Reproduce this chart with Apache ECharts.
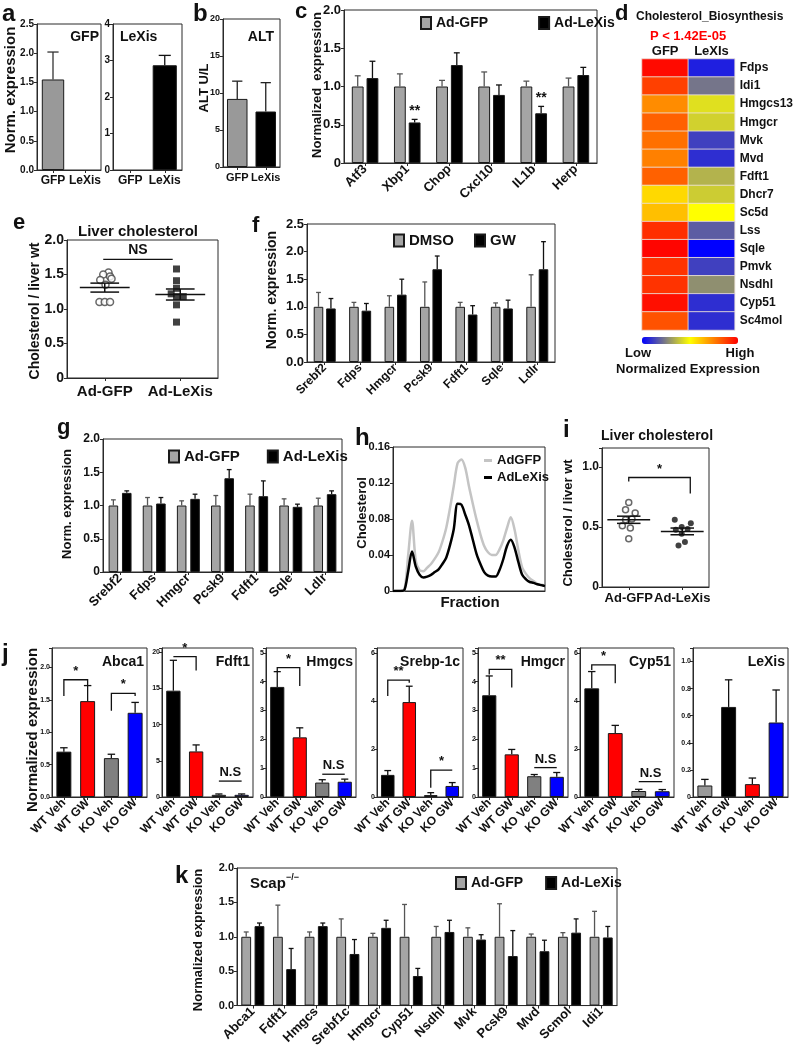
<!DOCTYPE html>
<html><head><meta charset="utf-8">
<script src="https://cdn.jsdelivr.net/npm/echarts@6/dist/echarts.min.js"></script>
<style>html,body{margin:0;padding:0;background:#fff}#c{width:796px;height:1050px}</style>
</head><body><div id="c"></div>
<script>
// ---------------- DATA ----------------
const aCats = ['GFP', 'LeXis'];
const aGFPpanel = [1.55, null];
const aGFPpanelErr = [0.47, null];
const aLeXisPanel = [null, 2.87];
const aLeXisPanelErr = [null, 0.27];

const bCats = ['GFP', 'LeXis'];
const bALT = [9.2, 7.5];
const bALTErr = [2.4, 3.9];

const cCats = ['Atf3', 'Xbp1', 'Chop', 'Cxcl10', 'IL1b', 'Herp'];
const cGFP = [1, 1, 1, 1, 1, 1];
const cGFPErr = [0.14, 0.165, 0.08, 0.19, 0.07, 0.11];
const cLeXis = [1.11, 0.53, 1.28, 0.89, 0.65, 1.15];
const cLeXisErr = [0.22, 0.04, 0.16, 0.13, 0.09, 0.10];
const cSig = ['', '**', '', '', '**', ''];

const hmRows = ['Fdps', 'Idi1', 'Hmgcs13', 'Hmgcr', 'Mvk', 'Mvd', 'Fdft1', 'Dhcr7', 'Sc5d', 'Lss', 'Sqle', 'Pmvk', 'Nsdhl', 'Cyp51', 'Sc4mol'];
const hmCols = ['GFP', 'LeXIs'];
const hmGFP = [0.98, 0.875, 0.725, 0.81, 0.78, 0.75, 0.81, 0.575, 0.625, 0.91, 0.99, 0.9, 0.9, 0.97, 0.84];
const hmLeXis = [0.06, 0.23, 0.44, 0.41, 0.125, 0.09, 0.35, 0.40, 0.50, 0.18, 0.0, 0.125, 0.28, 0.09, 0.09];

const eCats = ['Ad-GFP', 'Ad-LeXis'];
const eGFP = [1.53, 1.50, 1.47, 1.44, 1.42, 1.35, 1.10, 1.10, 1.10];
const eGFPJit = [0.05, -0.02, 0.07, 0.09, -0.06, 0.01, -0.07, 0, 0.07];
const eLeXis = [1.58, 1.41, 1.30, 1.22, 1.18, 1.18, 1.06, 0.81];
const eLeXisJit = [-0.05, -0.05, -0.05, -0.12, -0.05, 0.04, -0.05, -0.05];
const eMean = [1.31, 1.21];
const eSem = [0.065, 0.08];
const eNS = [[0.98, 1.90, 1.72, null, null, 'NS']];

const fCats = ['Srebf2', 'Fdps', 'Hmgcr', 'Pcsk9', 'Fdft1', 'Sqle', 'Ldlr'];
const fDMSO = [1, 1, 1, 1, 1, 1, 1];
const fDMSOErr = [0.26, 0.08, 0.20, 0.45, 0.08, 0.07, 0.58];
const fGW = [0.97, 0.93, 1.22, 1.68, 0.86, 0.97, 1.68];
const fGWErr = [0.18, 0.13, 0.28, 0.24, 0.16, 0.15, 0.50];

const gCats = ['Srebf2', 'Fdps', 'Hmgcr', 'Pcsk9', 'Fdft1', 'Sqle', 'Ldlr'];
const gGFP = [1, 1, 1, 1, 1, 1, 1];
const gGFPErr = [0.085, 0.12, 0.07, 0.15, 0.17, 0.10, 0.11];
const gLeXis = [1.19, 1.03, 1.10, 1.41, 1.14, 0.98, 1.17];
const gLeXisErr = [0.03, 0.09, 0.07, 0.13, 0.23, 0.04, 0.05];

const hFraction = [0,1,2,3,4,5,6,7,8,9,10,11,12,13,14,15,16,17,18,19,20,21,22,23,24,25,26,27,28,29,30,31,32,33,34,35,36,37,38,39,40];
const hAdGFP = [0,0,0,0.001,0.04,0.078,0.033,0.023,0.022,0.026,0.030,0.036,0.043,0.055,0.070,0.092,0.117,0.142,0.146,0.137,0.116,0.097,0.079,0.063,0.050,0.043,0.040,0.040,0.046,0.056,0.070,0.082,0.068,0.045,0.026,0.019,0.014,0.011,0.008,0.007,0.006];
const hAdLeXis = [0,0,0,0.001,0.022,0.044,0.027,0.018,0.015,0.016,0.018,0.021,0.024,0.030,0.037,0.051,0.069,0.097,0.096,0.085,0.073,0.057,0.041,0.030,0.021,0.017,0.016,0.016,0.023,0.035,0.050,0.057,0.048,0.032,0.018,0.013,0.010,0.009,0.0075,0.0065,0.0055];

const iCats = ['Ad-GFP', 'Ad-LeXis'];
const iGFP = [0.705, 0.644, 0.617, 0.567, 0.561, 0.511, 0.492, 0.403];
const iGFPJit = [0, -0.06, 0.12, 0.06, -0.06, -0.12, 0.03, 0];
const iLeXis = [0.561, 0.533, 0.50, 0.483, 0.478, 0.444, 0.375, 0.347];
const iLeXisJit = [-0.14, 0.16, -0.01, 0.10, -0.12, -0.01, 0.05, -0.07];
const iMean = [0.561, 0.464];
const iSem = [0.03, 0.028];
const iBracket = [[1.0, 2.15, 0.914, 0.88, 0.78, '*']];

const jCats = ['WT Veh', 'WT GW', 'KO Veh', 'KO GW'];
const jColors = ['#000000', '#ff0000', '#808080', '#0000ff'];
const jLeXisColors = ['#999999', '#000000', '#ff0000', '#0000ff'];
const jAbca1 = [0.70, 1.48, 0.60, 1.30];
const jAbca1Err = [0.06, 0.24, 0.06, 0.16];
const jFdft1 = [14.7, 6.3, 0.3, 0.3];
const jFdft1Err = [4.2, 0.9, 0.12, 0.12];
const jHmgcs = [3.82, 2.07, 0.50, 0.53];
const jHmgcsErr = [0.53, 0.33, 0.10, 0.09];
const jSrebp = [0.92, 3.95, 0.08, 0.46];
const jSrebpErr = [0.18, 0.66, 0.10, 0.14];
const jHmgcr = [3.53, 1.48, 0.72, 0.70];
const jHmgcrErr = [0.67, 0.17, 0.06, 0.15];
const jCyp51 = [4.52, 2.66, 0.25, 0.24];
const jCyp51Err = [0.70, 0.32, 0.07, 0.07];
const jLeXis = [0.085, 0.665, 0.095, 0.55];
const jLeXisErr = [0.045, 0.20, 0.045, 0.24];
const jAbca1Br = [[0, 1, 1.81, 1.56, 1.73, '*'], [2, 3, 1.60, 1.33, 1.56, '*']];
const jFdft1Br = [[0, 1, 19.4, null, 17.5, '*'], [2, 3, 2.2, null, null, 'N.S']];
const jHmgcsBr = [[0, 1, 4.49, 4.35, 3.85, '*'], [2, 3, 0.79, null, null, 'N.S']];
const jSrebpBr = [[0, 1, 4.86, 4.2, 4.75, '**'], [2, 3, 1.12, 0.39, null, '*']];
const jHmgcrBr = [[0, 1, 4.43, 4.25, 3.8, '**'], [2, 3, 1.02, null, null, 'N.S']];
const jCyp51Br = [[0, 1, 5.5, 5.28, 4.73, '*'], [2, 3, 0.64, null, null, 'N.S']];

const kCats = ['Abca1', 'Fdft1', 'Hmgcs', 'Srebf1c', 'Hmgcr', 'Cyp51', 'Nsdhl', 'Mvk', 'Pcsk9', 'Mvd', 'Scmol', 'Idi1'];
const kGFP = [1, 1, 1, 1, 1, 1, 1, 1, 1, 1, 1, 1];
const kGFPErr = [0.07, 0.46, 0.07, 0.26, 0.05, 0.47, 0.15, 0.13, 0.48, 0.04, 0.06, 0.37];
const kLeXis = [1.155, 0.53, 1.155, 0.75, 1.13, 0.43, 1.07, 0.96, 0.72, 0.79, 1.06, 0.99];
const kLeXisErr = [0.045, 0.30, 0.045, 0.21, 0.11, 0.11, 0.17, 0.07, 0.37, 0.16, 0.20, 0.16];

// ---------------- HELPERS ----------------
const FONT = "'Liberation Sans', Arial, Helvetica, sans-serif";
const grids = [], xAxes = [], yAxes = [], series = [], legends = [], graphic = [];
const AX = {color: '#2a2a2a', width: 1};
const dec1 = v => v.toFixed(1);
const int0 = v => String(Math.round(v));
const z1 = v => v === 0 ? '0' : v.toFixed(1);
const z2 = v => v === 0 ? '0' : v.toFixed(2);

function T(x, y, text, size, o) {
  o = o || {};
  graphic.push({type: 'text', x: x, y: y, rotation: o.rot || 0, z: 100, silent: true,
    style: {text: text, fontSize: size, fontWeight: 'bold', fontFamily: FONT, fill: o.color || '#111',
      align: o.align || 'left', verticalAlign: o.va || 'middle'}});
}
function G(l, t, w, h, show) {
  grids.push({left: l, top: t, width: w, height: h, show: show !== false, borderColor: '#2a2a2a', borderWidth: 1, backgroundColor: 'rgba(0,0,0,0)'});
  return grids.length - 1;
}
function YV(g, min, max, interval, fmt, size, margin) {
  yAxes.push({gridIndex: g, type: 'value', min: min, max: max, interval: interval,
    axisLine: {show: true, lineStyle: AX}, axisTick: {show: true, length: 3, lineStyle: AX}, splitLine: {show: false},
    axisLabel: {fontFamily: FONT, fontWeight: 'bold', fontSize: size, color: '#111', margin: margin == null ? 3 : margin,
      formatter: v => { const k = v / interval; return Math.abs(k - Math.round(k)) < 1e-6 ? fmt(v) : ''; }}});
  return yAxes.length - 1;
}
function XC(g, cats, size, rot, margin) {
  xAxes.push({gridIndex: g, type: 'category', data: cats,
    axisLine: {show: true, lineStyle: AX}, axisTick: {show: true, alignWithLabel: true, length: 3, lineStyle: AX}, splitLine: {show: false},
    axisLabel: {interval: 0, rotate: rot || 0, fontFamily: FONT, fontWeight: 'bold', fontSize: size, color: '#111', margin: margin == null ? 4 : margin}});
  return xAxes.length - 1;
}
function XV(g, min, max) {
  xAxes.push({gridIndex: g, type: 'value', min: min, max: max, show: false, splitLine: {show: false}});
  return xAxes.length - 1;
}
function BAR(xi, yi, name, vals, color, width, gap, colors) {
  series.push({type: 'bar', name: name, xAxisIndex: xi, yAxisIndex: yi, barWidth: width, barGap: gap, silent: true, animation: false,
    itemStyle: {color: color, borderColor: '#1a1a1a', borderWidth: 1},
    data: vals.map((v, i) => colors ? {value: v, itemStyle: {color: colors[i]}} : (v == null ? '-' : v))});
}
function ERR(xi, yi, vals, errs, pct, gapPct, shift, color, sig) {
  series.push({type: 'custom', xAxisIndex: xi, yAxisIndex: yi, silent: true, animation: false, z: 3,
    data: vals.map((v, i) => [i, v == null ? NaN : v, v == null ? NaN : v + errs[i]]),
    renderItem: function (params, api) {
      const v = api.value(1), t = api.value(2);
      if (!isFinite(v) || !isFinite(t)) return;
      const i = api.value(0);
      const band = api.size([1, 0])[0];
      const bw = band * pct, off = shift * (bw + bw * gapPct) / 2;
      const a = api.coord([i, v]), b = api.coord([i, t]);
      const x = a[0] + off, c = Math.max(2, bw * 0.25);
      const st = {stroke: color, lineWidth: 1.3};
      const ch = [{type: 'line', shape: {x1: x, y1: a[1], x2: x, y2: b[1]}, style: st},
                  {type: 'line', shape: {x1: x - c, y1: b[1], x2: x + c, y2: b[1]}, style: st}];
      const s = sig && sig[params.dataIndex];
      if (s) ch.push({type: 'text', x: x, y: b[1] - 1, style: {text: s, fontSize: 14, fontWeight: 'bold', fontFamily: FONT, fill: '#111', align: 'center', verticalAlign: 'bottom'}});
      return {type: 'group', children: ch};
    }});
}
function BRK(xi, yi, list, size) {
  series.push({type: 'custom', xAxisIndex: xi, yAxisIndex: yi, silent: true, animation: false, z: 4,
    data: list.map(b => [b[0], b[2]]),
    renderItem: function (params, api) {
      const b = list[params.dataIndex];
      const p = api.coord([b[0], b[2]]), q = api.coord([b[1], b[2]]);
      const pts = [];
      if (b[3] != null) pts.push([p[0], api.coord([b[0], b[3]])[1]]);
      pts.push([p[0], p[1]]); pts.push([q[0], q[1]]);
      if (b[4] != null) pts.push([q[0], api.coord([b[1], b[4]])[1]]);
      return {type: 'group', children: [
        {type: 'polyline', shape: {points: pts}, style: {stroke: '#111', lineWidth: 1.3, fill: null}},
        {type: 'text', x: (p[0] + q[0]) / 2, y: p[1] - 2, style: {text: b[5], fontSize: size, fontWeight: 'bold', fontFamily: FONT, fill: '#111', align: 'center', verticalAlign: 'bottom'}}]};
    }});
}
function MS(xi, yi, centers, means, sems, hm, hs) {
  series.push({type: 'custom', xAxisIndex: xi, yAxisIndex: yi, silent: true, animation: false, z: 5,
    data: centers.map((c, i) => [c, means[i], sems[i]]),
    renderItem: function (params, api) {
      const c = api.value(0), m = api.value(1), s = api.value(2);
      const st = {stroke: '#111', lineWidth: 1.5};
      const L = (x1, x2, y) => { const a = api.coord([x1, y]), b = api.coord([x2, y]); return {type: 'line', shape: {x1: a[0], y1: a[1], x2: b[0], y2: b[1]}, style: st}; };
      const v1 = api.coord([c, m - s]), v2 = api.coord([c, m + s]);
      return {type: 'group', children: [L(c - hm, c + hm, m), L(c - hs, c + hs, m - s), L(c - hs, c + hs, m + s),
        {type: 'line', shape: {x1: v1[0], y1: v1[1], x2: v2[0], y2: v2[1]}, style: st}]};
    }});
}
function SC(xi, yi, center, vals, jit, symbol, size, style) {
  series.push({type: 'scatter', xAxisIndex: xi, yAxisIndex: yi, symbol: symbol, symbolSize: size, silent: true, animation: false, z: 3,
    itemStyle: style, data: vals.map((v, i) => [center + jit[i], v])});
}
function LEG(left, top, names, gap, size, extra) {
  legends.push(Object.assign({left: left, top: top, data: names, icon: 'rect', itemWidth: 10, itemHeight: 12, itemGap: gap, padding: 0, selectedMode: false,
    textStyle: {fontFamily: FONT, fontWeight: 'bold', fontSize: size, color: '#111'}}, extra || {}));
}
const GRAY = '#a5a5a5';

// ---------------- PANEL a ----------------
let g, x, y, x2;
g = G(37, 24, 64, 146); x = XC(g, aCats, 12, 0, 5); y = YV(g, 0, 2.5, 0.5, dec1, 10);
BAR(x, y, 'aGFP', aGFPpanel, '#999999', '70%', '0%');
ERR(x, y, aGFPpanel, aGFPpanelErr, 0.7, 0, 0, '#333');
T(99, 37, 'GFP', 14, {align: 'right'});
g = G(113, 24, 69, 146); x = XC(g, aCats, 12, 0, 5); y = YV(g, 0, 4, 1, int0, 10);
BAR(x, y, 'aLeXis', aLeXisPanel, '#000000', '70%', '0%');
ERR(x, y, aLeXisPanel, aLeXisPanelErr, 0.7, 0, 0, '#111');
T(120, 37, 'LeXis', 14);
T(2, 14, 'a', 24);
T(11, 90, 'Norm. expression', 15, {rot: Math.PI / 2, align: 'center'});

// ---------------- PANEL b ----------------
g = G(223, 19, 57, 148); x = XC(g, bCats, 11, 0, 5); y = YV(g, 0, 20, 5, int0, 9);
BAR(x, y, 'ALT', bALT, '#999999', '72%', '0%', ['#999999', '#000000']);
ERR(x, y, bALT, bALTErr, 0.72, 0, 0, '#222');
T(274, 37, 'ALT', 14, {align: 'right'});
T(193, 14, 'b', 24);
T(204, 88, 'ALT U/L', 13, {rot: Math.PI / 2, align: 'center'});

// ---------------- PANEL c ----------------
g = G(344, 10, 253, 153); x = XC(g, cCats, 13, 45, 4); y = YV(g, 0, 2, 0.5, z1, 13);
BAR(x, y, 'Ad-GFP', cGFP, GRAY, '28%', '25%');
BAR(x, y, 'Ad-LeXis', cLeXis, '#000000', '28%', '25%');
ERR(x, y, cGFP, cGFPErr, 0.28, 0.25, -1, '#555');
ERR(x, y, cLeXis, cLeXisErr, 0.28, 0.25, 1, '#111', cSig);
LEG(420, 16, ['Ad-GFP', 'Ad-LeXis'], 50, 14);
T(295, 12, 'c', 22);
T(317, 85, 'Normalized  expression', 13, {rot: Math.PI / 2, align: 'center'});

// ---------------- PANEL d (heatmap) ----------------
g = G(642, 59, 96, 271, false);
xAxes.push({gridIndex: g, type: 'category', data: hmCols, position: 'top', axisLine: {show: false}, axisTick: {show: false}, splitLine: {show: false},
  axisLabel: {fontFamily: FONT, fontWeight: 'bold', fontSize: 13, color: '#111', margin: 1}});
x = xAxes.length - 1;
yAxes.push({gridIndex: g, type: 'category', data: hmRows, inverse: true, position: 'right', axisLine: {show: false}, axisTick: {show: false}, splitLine: {show: false},
  axisLabel: {interval: 0, fontFamily: FONT, fontWeight: 'bold', fontSize: 12, color: '#111', margin: 5}});
y = yAxes.length - 1;
const hmData = [];
hmRows.forEach((r, ri) => { hmData.push([0, ri, hmGFP[ri]]); hmData.push([1, ri, hmLeXis[ri]]); });
series.push({type: 'heatmap', xAxisIndex: x, yAxisIndex: y, data: hmData, silent: true, animation: false,
  itemStyle: {borderColor: 'rgba(235,225,215,0.85)', borderWidth: 1}});
const hmSeriesIndex = series.length - 1;
T(615, 14, 'd', 22);
T(636, 17, 'Cholesterol_Biosynthesis', 12);
T(688, 36, 'P < 1.42E-05', 13, {align: 'center', color: '#ff0000'});
T(638, 353, 'Low', 13, {align: 'center'});
T(740, 353, 'High', 13, {align: 'center'});
T(688, 369, 'Normalized Expression', 13, {align: 'center'});

// ---------------- PANEL e ----------------
g = G(67, 240, 151, 138); x = XC(g, eCats, 15, 0, 6); y = YV(g, 0, 2, 0.5, z1, 14); x2 = XV(g, 0.5, 2.5);
SC(x2, y, 1, eGFP, eGFPJit, 'circle', 7, {color: '#fff', borderColor: '#444', borderWidth: 1.5});
SC(x2, y, 2, eLeXis, eLeXisJit, 'rect', 7, {color: '#111'});
MS(x2, y, [1, 2], eMean, eSem, 0.33, 0.19);
BRK(x2, y, eNS, 14);
T(13, 223, 'e', 22);
T(138, 232, 'Liver cholesterol', 15, {align: 'center'});
T(35, 311, 'Cholesterol / liver wt', 14, {rot: Math.PI / 2, align: 'center'});

// ---------------- PANEL f ----------------
g = G(307, 224, 248, 138); x = XC(g, fCats, 12, 45, 4); y = YV(g, 0, 2.5, 0.5, dec1, 13);
BAR(x, y, 'DMSO', fDMSO, GRAY, '27%', '30%');
BAR(x, y, 'GW', fGW, '#000000', '27%', '30%');
ERR(x, y, fDMSO, fDMSOErr, 0.27, 0.30, -1, '#555');
ERR(x, y, fGW, fGWErr, 0.27, 0.30, 1, '#111');
LEG(393, 233, ['DMSO', 'GW'], 20, 15);
T(252, 226, 'f', 22);
T(272, 290, 'Norm. expression', 14, {rot: Math.PI / 2, align: 'center'});

// ---------------- PANEL g ----------------
g = G(103, 439, 239, 133); x = XC(g, gCats, 13, 45, 4); y = YV(g, 0, 2, 0.5, z1, 12);
BAR(x, y, 'Ad-GFP', gGFP, GRAY, '28%', '40%');
BAR(x, y, 'Ad-LeXis', gLeXis, '#000000', '28%', '40%');
ERR(x, y, gGFP, gGFPErr, 0.28, 0.40, -1, '#555');
ERR(x, y, gLeXis, gLeXisErr, 0.28, 0.40, 1, '#111');
LEG(168, 449, ['Ad-GFP', 'Ad-LeXis'], 27, 15);
T(57, 428, 'g', 22);
T(67, 504, 'Norm. expression', 13, {rot: Math.PI / 2, align: 'center'});

// ---------------- PANEL h ----------------
g = G(393, 447, 152, 144);
xAxes.push({gridIndex: g, type: 'value', min: 0, max: 40, axisLine: {show: true, lineStyle: AX}, axisTick: {show: false}, axisLabel: {show: false}, splitLine: {show: false}});
x = xAxes.length - 1;
y = YV(g, 0, 0.16, 0.04, z2, 11);
series.push({type: 'line', name: 'AdGFP', xAxisIndex: x, yAxisIndex: y, smooth: 0.3, symbol: 'none', silent: true, animation: false,
  lineStyle: {color: '#c4c4c4', width: 2.5}, itemStyle: {color: '#c4c4c4'}, data: hFraction.map((f, i) => [f, hAdGFP[i]])});
series.push({type: 'line', name: 'AdLeXis', xAxisIndex: x, yAxisIndex: y, smooth: 0.3, symbol: 'none', silent: true, animation: false,
  lineStyle: {color: '#000', width: 2.5}, itemStyle: {color: '#000'}, data: hFraction.map((f, i) => [f, hAdLeXis[i]])});
LEG(484, 454, ['AdGFP', 'AdLeXis'], 4, 13, {orient: 'vertical', icon: 'rect', itemWidth: 8, itemHeight: 3});
T(355, 438, 'h', 24);
T(362, 513, 'Cholesterol', 13, {rot: Math.PI / 2, align: 'center'});
T(470, 603, 'Fraction', 15, {align: 'center'});

// ---------------- PANEL i ----------------
g = G(602, 448, 107, 139); x = XC(g, iCats, 13, 0, 5); y = YV(g, 0, 1.16, 0.5, z1, 12); x2 = XV(g, 0.5, 2.5);
SC(x2, y, 1, iGFP, iGFPJit, 'circle', 6, {color: '#fff', borderColor: '#444', borderWidth: 1.5});
SC(x2, y, 2, iLeXis, iLeXisJit, 'circle', 6, {color: '#111'});
MS(x2, y, [1, 2], iMean, iSem, 0.4, 0.22);
BRK(x2, y, iBracket, 13);
T(563, 430, 'i', 24);
T(657, 436, 'Liver cholesterol', 14, {align: 'center'});
T(568, 523, 'Cholesterol / liver wt', 13, {rot: Math.PI / 2, align: 'center'});

// ---------------- PANEL j ----------------
const jPanels = [
  {t: 'Abca1', v: jAbca1, e: jAbca1Err, c: jColors, max: 2.3, iv: 0.5, f: dec1, br: jAbca1Br, l: 52, w: 95},
  {t: 'Fdft1', v: jFdft1, e: jFdft1Err, c: jColors, max: 20.6, iv: 5, f: int0, br: jFdft1Br, l: 162, w: 91},
  {t: 'Hmgcs', v: jHmgcs, e: jHmgcsErr, c: jColors, max: 5.17, iv: 1, f: int0, br: jHmgcsBr, l: 266, w: 90},
  {t: 'Srebp-1c', v: jSrebp, e: jSrebpErr, c: jColors, max: 6.2, iv: 2, f: int0, br: jSrebpBr, l: 377, w: 86},
  {t: 'Hmgcr', v: jHmgcr, e: jHmgcrErr, c: jColors, max: 5.17, iv: 1, f: int0, br: jHmgcrBr, l: 478, w: 90},
  {t: 'Cyp51', v: jCyp51, e: jCyp51Err, c: jColors, max: 6.2, iv: 2, f: int0, br: jCyp51Br, l: 580, w: 94},
  {t: 'LeXis', v: jLeXis, e: jLeXisErr, c: jLeXisColors, max: 1.1, iv: 0.2, f: z1, br: null, l: 693, w: 95}
];
jPanels.forEach(p => {
  const gg = G(p.l, 648, p.w, 149);
  const xx = XC(gg, jCats, 12, 45, 4);
  const yy = YV(gg, 0, p.max, p.iv, p.f, 7, 2);
  BAR(xx, yy, 'j' + p.t, p.v, '#000', '63%', '0%', p.c);
  ERR(xx, yy, p.v, p.e, 0.63, 0, 0, '#111');
  if (p.br) BRK(xx, yy, p.br, 13);
  T(p.l + p.w - 3, 662, p.t, 14, {align: 'right'});
});
T(2, 654, 'j', 24);
T(33, 730, 'Normalized expression', 15, {rot: Math.PI / 2, align: 'center'});

// ---------------- PANEL k ----------------
g = G(237, 868, 380, 139); x = XC(g, kCats, 13, 45, 4); y = YV(g, 0, 2, 0.5, dec1, 11);
BAR(x, y, 'Ad-GFP', kGFP, GRAY, '31%', '35%');
BAR(x, y, 'Ad-LeXis', kLeXis, '#000000', '31%', '35%');
ERR(x, y, kGFP, kGFPErr, 0.31, 0.35, -1, '#555');
ERR(x, y, kLeXis, kLeXisErr, 0.31, 0.35, 1, '#111');
LEG(455, 876, ['Ad-GFP', 'Ad-LeXis'], 22, 14);
T(250, 884, 'Scap', 15);
T(286, 878, '\u2212/\u2212', 9);
T(175, 876, 'k', 24);
T(198, 940, 'Normalized expression', 13, {rot: Math.PI / 2, align: 'center'});

// ---------------- RENDER ----------------
const chart = echarts.init(document.getElementById('c'), null, {renderer: 'canvas'});
chart.setOption({
  animation: false, backgroundColor: '#ffffff',
  grid: grids, xAxis: xAxes, yAxis: yAxes, series: series, legend: legends,
  visualMap: [{type: 'continuous', seriesIndex: hmSeriesIndex, min: 0, max: 1, orient: 'horizontal', left: 642, top: 337,
    itemWidth: 7, itemHeight: 96, padding: 0, calculable: false, realtime: false,
    inRange: {color: ['#0000ff', '#ffff00', '#ff0000']}}],
  graphic: {elements: graphic}
});
</script></body></html>
